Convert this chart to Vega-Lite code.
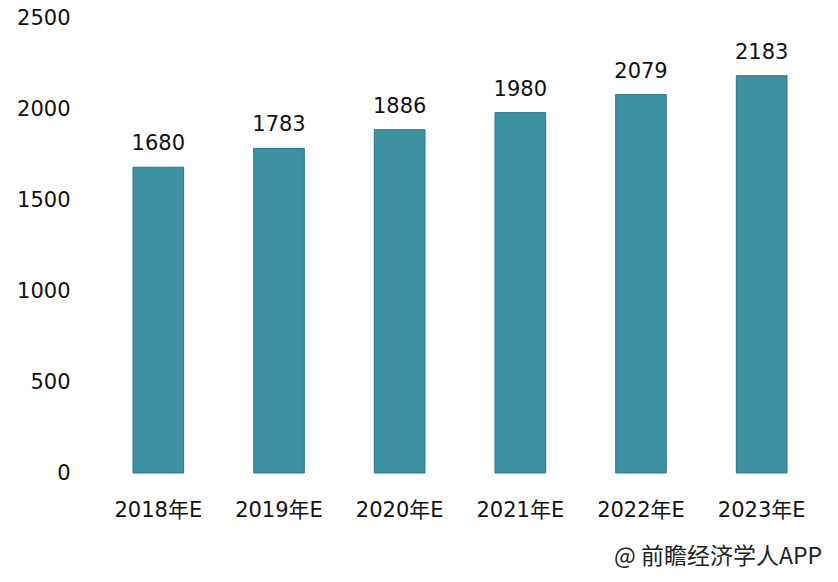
{
  "$schema": "https://vega.github.io/schema/vega-lite/v6.json",
  "width": 724,
  "height": 455,
  "autosize": {"type": "none"},
  "padding": {"left": 98, "top": 18, "right": 16, "bottom": 109},
  "background": "#ffffff",
  "config": {
    "view": {"stroke": null},
    "font": "DejaVu Sans, Noto Sans CJK SC"
  },
  "title": {
    "text": "@ 前瞻经济学人APP",
    "orient": "bottom",
    "anchor": "end",
    "offset": 26,
    "fontSize": 23,
    "fontWeight": "normal",
    "color": "#222222",
    "font": "Noto Sans CJK SC"
  },
  "data": {
    "values": [
      {"year": "2018年E", "value": 1680},
      {"year": "2019年E", "value": 1783},
      {"year": "2020年E", "value": 1886},
      {"year": "2021年E", "value": 1980},
      {"year": "2022年E", "value": 2079},
      {"year": "2023年E", "value": 2183}
    ]
  },
  "encoding": {
    "x": {
      "field": "year",
      "type": "nominal",
      "sort": null,
      "scale": {"paddingInner": 0.58, "paddingOuter": 0.29},
      "axis": {
        "title": null,
        "labelAngle": 0,
        "labelFontSize": 21,
        "labelColor": "#111111",
        "labelPadding": 26,
        "domain": false,
        "ticks": false
      }
    },
    "y": {
      "field": "value",
      "type": "quantitative",
      "scale": {"domain": [0, 2500]},
      "axis": {
        "title": null,
        "values": [0, 500, 1000, 1500, 2000, 2500],
        "format": "d",
        "labelFontSize": 21,
        "labelColor": "#111111",
        "labelPadding": 28,
        "grid": false,
        "domain": false,
        "ticks": false
      }
    }
  },
  "layer": [
    {
      "mark": {"type": "bar", "color": "#3d91a2", "stroke": "#2e7585", "strokeWidth": 1}
    },
    {
      "mark": {"type": "text", "baseline": "bottom", "dy": -13, "fontSize": 21, "color": "#111111"},
      "encoding": {"text": {"field": "value", "type": "quantitative", "format": "d"}}
    }
  ]
}
